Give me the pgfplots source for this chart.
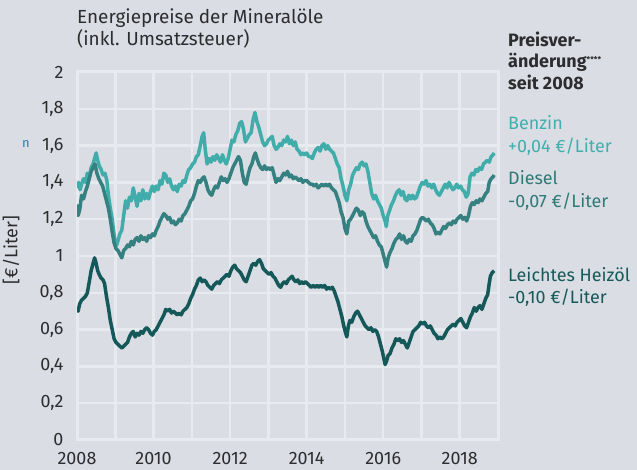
\documentclass[border=0pt]{standalone}
\usepackage{pgfplots}
\pgfplotsset{compat=1.18}
\usepackage{fontspec}
\setmainfont{Fira Sans}
\definecolor{bgc}{RGB}{218,221,227}
\definecolor{benz}{RGB}{64,173,171}
\definecolor{dies}{RGB}{53,128,128}
\definecolor{heiz}{RGB}{20,88,89}
\definecolor{txt}{RGB}{45,45,48}
\definecolor{benzt}{RGB}{64,176,174}
\definecolor{diest}{RGB}{47,122,120}
\definecolor{heizt}{RGB}{23,89,90}
\definecolor{blueish}{RGB}{40,125,170}
\definecolor{gw}{RGB}{231,234,238}
\begin{document}
\begin{tikzpicture}[x=1bp,y=1bp]
\useasboundingbox (0,0) rectangle (637,470);
\fill[bgc] (0,0) rectangle (637,470);
\foreach \k in {1,...,10} {\draw[gw, line width=2.5bp] ({77+\k*421/11},30) -- ({77+\k*421/11},398);}
\foreach \k in {1,...,9} {\draw[gw, line width=2.5bp] (77,{30+\k*36.8}) -- (498,{30+\k*36.8});}
\draw[gw, line width=3bp] (77,30) rectangle (498,398);
\begin{axis}[
  at={(77bp,30bp)}, anchor=south west,
  scale only axis, width=421bp, height=368bp,
  xmin=2008, xmax=2019, ymin=0, ymax=2,
  xtick={2008,2010,2012,2014,2016,2018},
  xticklabels={2008,2010,2012,2014,2016,2018},
  minor xtick={2009,2011,2013,2015,2017,2019},
  ytick={0,0.2,0.4,0.6,0.8,1,1.2,1.4,1.6,1.8,2},
  yticklabels={0,{0,2},{0,4},{0,6},{0,8},1,{1,2},{1,4},{1,6},{1,8},2},
  grid=both,
  major grid style={gw, line width=2.5bp},
  minor grid style={gw, line width=2.5bp},
  axis line style={gw, line width=3bp},
  tick style={gw, line width=2.5bp},
  ticklabel style={font=\fontsize{18}{21}\selectfont, text=txt},
  yticklabel style={anchor=east, xshift=-10bp},
  xticklabel style={anchor=north, yshift=-9bp},
]
\addplot[benz, line width=3.5bp, line join=round] coordinates {
(2008.00,1.37)(2008.04,1.40)(2008.08,1.36)(2008.12,1.39)(2008.17,1.42)(2008.22,1.40)(2008.27,1.45)(2008.32,1.43)(2008.37,1.48)(2008.42,1.50)(2008.46,1.53)(2008.50,1.56)(2008.54,1.52)(2008.58,1.49)(2008.63,1.47)(2008.68,1.44)(2008.73,1.45)(2008.78,1.41)(2008.82,1.33)(2008.87,1.26)(2008.92,1.20)(2008.96,1.13)(2009.00,1.07)(2009.04,1.06)(2009.08,1.09)(2009.12,1.12)(2009.17,1.14)(2009.22,1.22)(2009.27,1.30)(2009.32,1.26)(2009.37,1.32)(2009.42,1.30)(2009.47,1.37)(2009.52,1.32)(2009.57,1.27)(2009.62,1.34)(2009.67,1.30)(2009.72,1.36)(2009.77,1.31)(2009.82,1.34)(2009.87,1.31)(2009.92,1.35)(2009.97,1.38)(2010.02,1.35)(2010.07,1.38)(2010.12,1.36)(2010.17,1.41)(2010.22,1.39)(2010.27,1.45)(2010.32,1.44)(2010.37,1.40)(2010.42,1.42)(2010.47,1.38)(2010.52,1.36)(2010.57,1.38)(2010.62,1.35)(2010.67,1.39)(2010.72,1.38)(2010.77,1.41)(2010.82,1.40)(2010.87,1.44)(2010.92,1.47)(2010.97,1.48)(2011.02,1.50)(2011.07,1.51)(2011.12,1.54)(2011.17,1.55)(2011.22,1.60)(2011.27,1.65)(2011.31,1.67)(2011.35,1.58)(2011.40,1.50)(2011.45,1.53)(2011.50,1.51)(2011.55,1.54)(2011.60,1.52)(2011.65,1.55)(2011.70,1.53)(2011.75,1.51)(2011.80,1.55)(2011.85,1.52)(2011.90,1.50)(2011.95,1.53)(2012.00,1.58)(2012.05,1.63)(2012.10,1.62)(2012.15,1.66)(2012.20,1.68)(2012.25,1.72)(2012.30,1.73)(2012.35,1.69)(2012.40,1.62)(2012.45,1.64)(2012.50,1.66)(2012.55,1.67)(2012.60,1.74)(2012.65,1.78)(2012.70,1.73)(2012.75,1.70)(2012.80,1.66)(2012.85,1.62)(2012.90,1.60)(2012.95,1.61)(2013.00,1.63)(2013.05,1.64)(2013.10,1.65)(2013.15,1.60)(2013.20,1.58)(2013.25,1.59)(2013.30,1.61)(2013.35,1.60)(2013.40,1.63)(2013.45,1.62)(2013.50,1.65)(2013.55,1.61)(2013.60,1.63)(2013.65,1.60)(2013.70,1.62)(2013.75,1.58)(2013.80,1.57)(2013.85,1.55)(2013.90,1.56)(2013.95,1.55)(2014.00,1.56)(2014.05,1.54)(2014.10,1.54)(2014.15,1.53)(2014.20,1.56)(2014.25,1.58)(2014.30,1.59)(2014.35,1.57)(2014.40,1.60)(2014.45,1.61)(2014.50,1.58)(2014.55,1.60)(2014.60,1.58)(2014.65,1.57)(2014.70,1.56)(2014.75,1.53)(2014.80,1.50)(2014.85,1.48)(2014.90,1.42)(2014.95,1.38)(2015.00,1.33)(2015.05,1.30)(2015.10,1.36)(2015.15,1.39)(2015.20,1.44)(2015.25,1.46)(2015.30,1.48)(2015.35,1.47)(2015.40,1.50)(2015.45,1.51)(2015.50,1.49)(2015.55,1.50)(2015.60,1.46)(2015.65,1.40)(2015.70,1.34)(2015.75,1.31)(2015.80,1.33)(2015.85,1.30)(2015.90,1.28)(2015.95,1.26)(2016.00,1.22)(2016.05,1.19)(2016.08,1.16)(2016.12,1.22)(2016.17,1.25)(2016.22,1.28)(2016.27,1.30)(2016.32,1.33)(2016.37,1.35)(2016.42,1.36)(2016.47,1.33)(2016.52,1.35)(2016.57,1.31)(2016.62,1.30)(2016.67,1.33)(2016.72,1.31)(2016.77,1.33)(2016.82,1.31)(2016.87,1.32)(2016.92,1.35)(2016.97,1.38)(2017.02,1.40)(2017.07,1.39)(2017.12,1.41)(2017.17,1.38)(2017.22,1.39)(2017.27,1.37)(2017.32,1.39)(2017.37,1.36)(2017.42,1.34)(2017.47,1.33)(2017.52,1.35)(2017.57,1.37)(2017.62,1.39)(2017.67,1.37)(2017.72,1.40)(2017.77,1.38)(2017.82,1.36)(2017.87,1.37)(2017.92,1.39)(2017.97,1.37)(2018.02,1.38)(2018.07,1.36)(2018.12,1.35)(2018.17,1.32)(2018.22,1.34)(2018.27,1.43)(2018.32,1.45)(2018.37,1.44)(2018.42,1.47)(2018.47,1.46)(2018.52,1.48)(2018.57,1.47)(2018.62,1.50)(2018.67,1.51)(2018.72,1.52)(2018.77,1.51)(2018.82,1.54)(2018.87,1.55)(2018.90,1.56)
};
\addplot[dies, line width=3.5bp, line join=round] coordinates {
(2008.00,1.28)(2008.03,1.22)(2008.07,1.25)(2008.12,1.33)(2008.17,1.31)(2008.22,1.35)(2008.27,1.38)(2008.32,1.42)(2008.37,1.46)(2008.42,1.48)(2008.47,1.50)(2008.52,1.45)(2008.57,1.42)(2008.62,1.40)(2008.67,1.38)(2008.72,1.34)(2008.77,1.30)(2008.82,1.26)(2008.87,1.20)(2008.92,1.13)(2008.97,1.07)(2009.02,1.04)(2009.07,1.03)(2009.12,1.01)(2009.17,0.99)(2009.22,1.03)(2009.27,1.04)(2009.32,1.06)(2009.37,1.05)(2009.42,1.08)(2009.47,1.06)(2009.52,1.09)(2009.57,1.10)(2009.62,1.08)(2009.67,1.11)(2009.72,1.09)(2009.77,1.10)(2009.82,1.08)(2009.87,1.11)(2009.92,1.10)(2009.97,1.12)(2010.02,1.11)(2010.07,1.14)(2010.12,1.16)(2010.17,1.19)(2010.22,1.21)(2010.27,1.23)(2010.32,1.22)(2010.37,1.20)(2010.42,1.21)(2010.47,1.18)(2010.52,1.19)(2010.57,1.17)(2010.62,1.18)(2010.67,1.20)(2010.72,1.19)(2010.77,1.22)(2010.82,1.23)(2010.87,1.25)(2010.92,1.27)(2010.97,1.30)(2011.02,1.31)(2011.07,1.34)(2011.12,1.38)(2011.17,1.41)(2011.22,1.40)(2011.27,1.42)(2011.32,1.43)(2011.37,1.40)(2011.42,1.36)(2011.47,1.34)(2011.52,1.33)(2011.57,1.36)(2011.62,1.38)(2011.67,1.37)(2011.72,1.40)(2011.77,1.43)(2011.82,1.41)(2011.87,1.42)(2011.92,1.40)(2011.97,1.42)(2012.02,1.45)(2012.07,1.48)(2012.12,1.50)(2012.17,1.52)(2012.22,1.54)(2012.27,1.52)(2012.32,1.45)(2012.37,1.40)(2012.42,1.39)(2012.47,1.44)(2012.52,1.48)(2012.57,1.50)(2012.62,1.54)(2012.66,1.56)(2012.70,1.53)(2012.75,1.50)(2012.80,1.48)(2012.85,1.47)(2012.90,1.49)(2012.95,1.47)(2013.00,1.48)(2013.05,1.47)(2013.10,1.48)(2013.15,1.44)(2013.20,1.40)(2013.25,1.42)(2013.30,1.41)(2013.35,1.43)(2013.40,1.45)(2013.45,1.44)(2013.50,1.46)(2013.55,1.43)(2013.60,1.44)(2013.65,1.42)(2013.70,1.43)(2013.75,1.42)(2013.80,1.41)(2013.85,1.42)(2013.90,1.40)(2013.95,1.41)(2014.00,1.41)(2014.05,1.40)(2014.10,1.39)(2014.15,1.39)(2014.20,1.38)(2014.25,1.39)(2014.30,1.37)(2014.35,1.38)(2014.40,1.39)(2014.45,1.38)(2014.50,1.39)(2014.55,1.38)(2014.60,1.39)(2014.65,1.37)(2014.70,1.36)(2014.75,1.35)(2014.80,1.32)(2014.85,1.29)(2014.90,1.24)(2014.95,1.21)(2015.00,1.15)(2015.05,1.12)(2015.10,1.19)(2015.15,1.20)(2015.20,1.22)(2015.25,1.24)(2015.30,1.26)(2015.35,1.25)(2015.40,1.22)(2015.45,1.24)(2015.50,1.23)(2015.55,1.19)(2015.60,1.16)(2015.65,1.14)(2015.70,1.12)(2015.75,1.10)(2015.80,1.11)(2015.85,1.08)(2015.90,1.06)(2015.95,1.05)(2016.00,1.01)(2016.05,0.97)(2016.09,0.94)(2016.13,0.99)(2016.18,1.02)(2016.23,1.04)(2016.28,1.07)(2016.33,1.09)(2016.38,1.10)(2016.43,1.12)(2016.48,1.09)(2016.53,1.11)(2016.58,1.08)(2016.63,1.07)(2016.68,1.09)(2016.73,1.08)(2016.78,1.11)(2016.83,1.12)(2016.88,1.14)(2016.93,1.17)(2016.98,1.20)(2017.03,1.21)(2017.08,1.20)(2017.13,1.19)(2017.18,1.20)(2017.23,1.18)(2017.28,1.17)(2017.33,1.15)(2017.38,1.12)(2017.43,1.13)(2017.48,1.12)(2017.53,1.14)(2017.58,1.16)(2017.63,1.15)(2017.68,1.17)(2017.73,1.18)(2017.78,1.17)(2017.83,1.19)(2017.88,1.18)(2017.93,1.20)(2017.98,1.21)(2018.03,1.22)(2018.08,1.20)(2018.13,1.21)(2018.18,1.19)(2018.23,1.22)(2018.28,1.27)(2018.33,1.29)(2018.38,1.28)(2018.43,1.30)(2018.48,1.29)(2018.53,1.31)(2018.58,1.30)(2018.63,1.32)(2018.68,1.34)(2018.73,1.35)(2018.77,1.40)(2018.82,1.42)(2018.87,1.43)(2018.90,1.44)
};
\addplot[heiz, line width=3.5bp, line join=round] coordinates {
(2008.00,0.72)(2008.03,0.70)(2008.07,0.74)(2008.12,0.76)(2008.17,0.77)(2008.22,0.78)(2008.27,0.80)(2008.32,0.86)(2008.37,0.92)(2008.42,0.96)(2008.46,0.99)(2008.50,0.96)(2008.54,0.92)(2008.58,0.90)(2008.63,0.88)(2008.68,0.87)(2008.72,0.85)(2008.77,0.78)(2008.82,0.72)(2008.87,0.65)(2008.92,0.60)(2008.97,0.55)(2009.02,0.53)(2009.07,0.52)(2009.12,0.51)(2009.17,0.50)(2009.22,0.51)(2009.27,0.52)(2009.32,0.53)(2009.37,0.56)(2009.42,0.58)(2009.47,0.59)(2009.52,0.56)(2009.57,0.58)(2009.62,0.57)(2009.67,0.59)(2009.72,0.58)(2009.77,0.60)(2009.82,0.61)(2009.87,0.60)(2009.92,0.58)(2009.97,0.57)(2010.02,0.59)(2010.07,0.60)(2010.12,0.62)(2010.17,0.64)(2010.22,0.66)(2010.27,0.68)(2010.32,0.71)(2010.37,0.70)(2010.42,0.71)(2010.47,0.69)(2010.52,0.70)(2010.57,0.69)(2010.62,0.68)(2010.67,0.69)(2010.72,0.68)(2010.77,0.70)(2010.82,0.71)(2010.87,0.72)(2010.92,0.74)(2010.97,0.77)(2011.02,0.79)(2011.07,0.82)(2011.12,0.84)(2011.17,0.87)(2011.22,0.88)(2011.27,0.86)(2011.32,0.87)(2011.37,0.86)(2011.42,0.84)(2011.47,0.83)(2011.52,0.82)(2011.57,0.84)(2011.62,0.85)(2011.67,0.86)(2011.72,0.85)(2011.77,0.87)(2011.82,0.88)(2011.87,0.89)(2011.92,0.90)(2011.97,0.89)(2012.02,0.92)(2012.07,0.94)(2012.12,0.95)(2012.17,0.93)(2012.22,0.92)(2012.27,0.91)(2012.32,0.89)(2012.37,0.87)(2012.42,0.86)(2012.47,0.89)(2012.52,0.92)(2012.57,0.95)(2012.62,0.96)(2012.67,0.95)(2012.72,0.97)(2012.77,0.98)(2012.82,0.96)(2012.87,0.93)(2012.92,0.92)(2012.97,0.91)(2013.02,0.90)(2013.07,0.91)(2013.12,0.89)(2013.17,0.88)(2013.22,0.86)(2013.27,0.84)(2013.32,0.83)(2013.37,0.85)(2013.42,0.86)(2013.47,0.85)(2013.52,0.87)(2013.57,0.88)(2013.62,0.89)(2013.67,0.87)(2013.72,0.86)(2013.77,0.87)(2013.82,0.85)(2013.87,0.86)(2013.92,0.85)(2013.97,0.86)(2014.02,0.85)(2014.07,0.84)(2014.12,0.83)(2014.17,0.84)(2014.22,0.83)(2014.27,0.84)(2014.32,0.83)(2014.37,0.84)(2014.42,0.83)(2014.47,0.84)(2014.52,0.82)(2014.57,0.83)(2014.62,0.82)(2014.67,0.83)(2014.72,0.81)(2014.77,0.78)(2014.82,0.75)(2014.87,0.71)(2014.92,0.67)(2014.97,0.62)(2015.02,0.58)(2015.05,0.56)(2015.09,0.62)(2015.13,0.65)(2015.18,0.64)(2015.23,0.67)(2015.28,0.69)(2015.33,0.70)(2015.38,0.68)(2015.43,0.66)(2015.48,0.64)(2015.53,0.62)(2015.58,0.61)(2015.63,0.60)(2015.68,0.61)(2015.73,0.59)(2015.78,0.60)(2015.83,0.59)(2015.88,0.56)(2015.93,0.52)(2015.98,0.48)(2016.02,0.44)(2016.05,0.41)(2016.09,0.43)(2016.13,0.46)(2016.18,0.47)(2016.23,0.50)(2016.28,0.52)(2016.33,0.55)(2016.38,0.54)(2016.43,0.55)(2016.48,0.53)(2016.53,0.54)(2016.58,0.52)(2016.63,0.50)(2016.68,0.53)(2016.73,0.56)(2016.78,0.59)(2016.83,0.60)(2016.88,0.61)(2016.93,0.62)(2016.98,0.64)(2017.03,0.63)(2017.08,0.64)(2017.13,0.62)(2017.18,0.61)(2017.23,0.62)(2017.28,0.60)(2017.33,0.58)(2017.38,0.57)(2017.43,0.55)(2017.48,0.56)(2017.53,0.55)(2017.58,0.56)(2017.63,0.58)(2017.68,0.60)(2017.73,0.61)(2017.78,0.62)(2017.83,0.63)(2017.88,0.62)(2017.93,0.64)(2017.98,0.65)(2018.03,0.66)(2018.08,0.64)(2018.13,0.62)(2018.18,0.61)(2018.23,0.64)(2018.28,0.67)(2018.33,0.69)(2018.38,0.72)(2018.43,0.70)(2018.48,0.72)(2018.53,0.73)(2018.58,0.71)(2018.63,0.74)(2018.68,0.77)(2018.73,0.79)(2018.77,0.85)(2018.80,0.89)(2018.85,0.91)(2018.90,0.92)
};
\end{axis}
\begin{scope}[every node/.style={inner sep=0pt, font=\fontsize{18}{21}\selectfont}]
\node[anchor=base west, text=txt, font=\fontsize{19}{22}\selectfont] at (77,446) {Energiepreise der Mineralöle};
\node[anchor=base west, text=txt, font=\fontsize{19}{22}\selectfont] at (77,424) {(inkl. Umsatzsteuer)};
\node[anchor=base west, text=txt, font=\fontsize{18}{21}\selectfont\bfseries] at (508,423) {Preisver-};
\node[anchor=base west, text=txt, font=\fontsize{18}{21}\selectfont\bfseries] at (508,402) {änderung\raisebox{0.6ex}{\fontsize{8}{8}\selectfont ****}};
\node[anchor=base west, text=txt, font=\fontsize{18}{21}\selectfont\bfseries] at (508,380) {seit 2008};
\node[anchor=base west, text=benzt] at (508,340) {Benzin};
\node[anchor=base west, text=benzt] at (508,317) {+0,04 €/Liter};
\node[anchor=base west, text=diest] at (508,285) {Diesel};
\node[anchor=base west, text=diest] at (508,262) {-0,07 €/Liter};
\node[anchor=base west, text=heizt] at (508,188) {Leichtes Heizöl};
\node[anchor=base west, text=heizt] at (508,166) {-0,10 €/Liter};
\node[anchor=center, rotate=90, text=txt] at (11,220) {[€/Liter]};
\node[anchor=base west, text=blueish, font=\fontsize{13}{15}\selectfont] at (22,322) {n};
\end{scope}
\end{tikzpicture}
\end{document}
